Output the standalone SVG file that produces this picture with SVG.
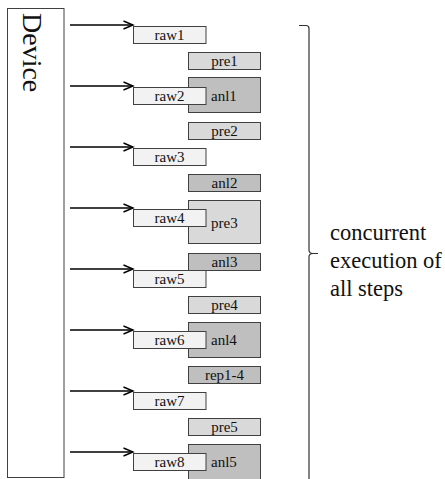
<svg xmlns="http://www.w3.org/2000/svg" width="445" height="479" viewBox="0 0 445 479">
<style>
  .box{stroke:#404040;stroke-width:1}
  .raw{fill:#f2f2f2}
  .pre{fill:#d9d9d9}
  .anl{fill:#bfbfbf}
  .conn{stroke:#000;stroke-width:1.4;fill:none}
</style>
<defs>
  <marker id="ah" markerWidth="12" markerHeight="10" refX="10" refY="5" orient="auto" markerUnits="userSpaceOnUse">
    <path d="M0.5,1 L10,5 L0.5,9" fill="none" stroke="#000" stroke-width="1.4"/>
  </marker>
</defs>
<rect width="445" height="479" fill="#fff"/>

<g id="device">
  <rect class="box" x="7.5" y="8.5" width="56.5" height="469" fill="#fff" stroke-width="1.3"/>
  <text transform="translate(23,13) rotate(90)" font-family="Liberation Serif, Times New Roman, serif" font-size="28" fill="#111">Device</text>
</g>

<g id="connectors">
  <line class="conn" x1="70" y1="25" x2="133" y2="25" marker-end="url(#ah)"/>
  <line class="conn" x1="70" y1="86" x2="133" y2="86" marker-end="url(#ah)"/>
  <line class="conn" x1="70" y1="147" x2="133" y2="147" marker-end="url(#ah)"/>
  <line class="conn" x1="70" y1="208" x2="133" y2="208" marker-end="url(#ah)"/>
  <line class="conn" x1="70" y1="269" x2="133" y2="269" marker-end="url(#ah)"/>
  <line class="conn" x1="70" y1="330" x2="133" y2="330" marker-end="url(#ah)"/>
  <line class="conn" x1="70" y1="391" x2="133" y2="391" marker-end="url(#ah)"/>
  <line class="conn" x1="70" y1="452" x2="133" y2="452" marker-end="url(#ah)"/>
</g>

<g font-family="Liberation Serif, Times New Roman, serif" font-size="15" fill="#111">
<g id="pre1"><rect class="box pre" x="188.5" y="52.5" width="72" height="17"/><text text-anchor="middle" x="224.5" y="66">pre1</text></g>
<g id="anl1"><rect class="box anl" x="188.5" y="77.5" width="72" height="35"/><text x="211" y="101">anl1</text></g>
<g id="pre2"><rect class="box pre" x="188.5" y="122.5" width="72" height="17"/><text text-anchor="middle" x="224.5" y="136">pre2</text></g>
<g id="anl2"><rect class="box anl" x="188.5" y="174.5" width="72" height="17"/><text text-anchor="middle" x="224.5" y="188">anl2</text></g>
<g id="pre3"><rect class="box pre" x="188.5" y="200.5" width="72" height="43"/><text x="211" y="228">pre3</text></g>
<g id="anl3"><rect class="box anl" x="188.5" y="253.5" width="72" height="17"/><text text-anchor="middle" x="224.5" y="267">anl3</text></g>
<g id="pre4"><rect class="box pre" x="188.5" y="296.5" width="72" height="17"/><text text-anchor="middle" x="224.5" y="310">pre4</text></g>
<g id="anl4"><rect class="box anl" x="188.5" y="322.5" width="72" height="35"/><text x="211" y="345">anl4</text></g>
<g id="rep1-4"><rect class="box anl" x="188.5" y="366.5" width="72" height="17"/><text text-anchor="middle" x="224.5" y="380">rep1-4</text></g>
<g id="pre5"><rect class="box pre" x="188.5" y="418.5" width="72" height="17"/><text text-anchor="middle" x="224.5" y="432">pre5</text></g>
<g id="anl5"><rect class="box anl" x="188.5" y="444.5" width="72" height="40"/><text x="211" y="467">anl5</text></g>

<g id="raw1"><rect class="box raw" x="133.5" y="26.5" width="72.5" height="17"/><text text-anchor="middle" x="169.5" y="40">raw1</text></g>
<g id="raw2"><rect class="box raw" x="133.5" y="87.5" width="72.5" height="17"/><text text-anchor="middle" x="169.5" y="101">raw2</text></g>
<g id="raw3"><rect class="box raw" x="133.5" y="148.5" width="72.5" height="17"/><text text-anchor="middle" x="169.5" y="162">raw3</text></g>
<g id="raw4"><rect class="box raw" x="133.5" y="209.5" width="72.5" height="17"/><text text-anchor="middle" x="169.5" y="223">raw4</text></g>
<g id="raw5"><rect class="box raw" x="133.5" y="270.5" width="72.5" height="17"/><text text-anchor="middle" x="169.5" y="284">raw5</text></g>
<g id="raw6"><rect class="box raw" x="133.5" y="331.5" width="72.5" height="17"/><text text-anchor="middle" x="169.5" y="345">raw6</text></g>
<g id="raw7"><rect class="box raw" x="133.5" y="392.5" width="72.5" height="17"/><text text-anchor="middle" x="169.5" y="406">raw7</text></g>
<g id="raw8"><rect class="box raw" x="133.5" y="453.5" width="72.5" height="17"/><text text-anchor="middle" x="169.5" y="467">raw8</text></g>
</g>

<g id="brace">
  <path d="M299,25.5 L306,25.5 Q309,25.5 309,28.5 L309,250 Q309,253.5 313,253.5 L318,253.5 M313,253.5 Q309,253.5 309,257 L309,480" fill="none" stroke="#333" stroke-width="1.2"/>
  <g font-family="Liberation Serif, Times New Roman, serif" font-size="22.5" fill="#111">
    <text x="330" y="240">concurrent</text>
    <text x="330" y="268">execution of</text>
    <text x="330" y="296">all steps</text>
  </g>
</g>
</svg>
